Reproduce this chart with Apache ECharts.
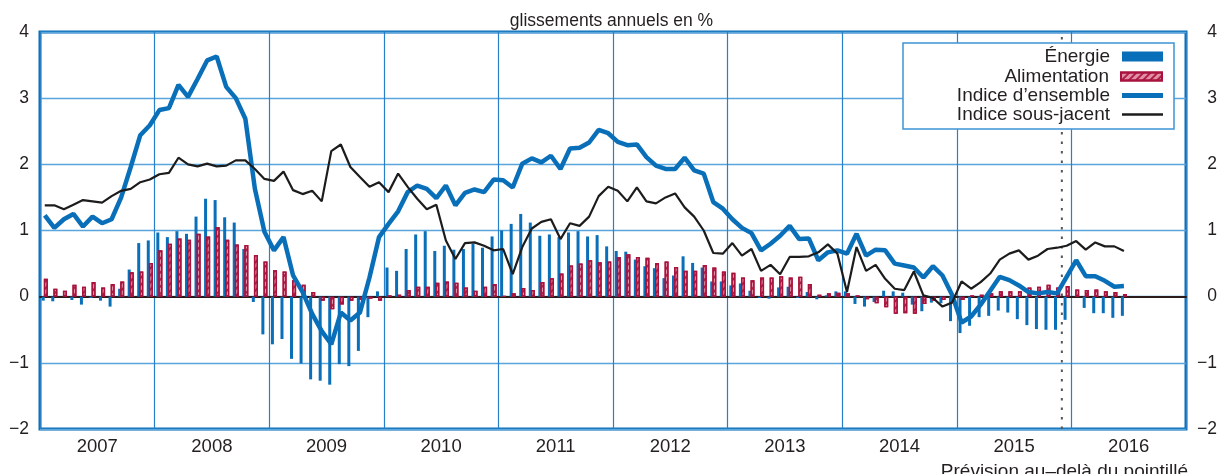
<!DOCTYPE html>
<html><head><meta charset="utf-8">
<script src="https://cdn.jsdelivr.net/npm/echarts@6/dist/echarts.min.js"></script>
<style>html,body{margin:0;padding:0;background:#fff}#c{width:1223px;height:474px}</style>
</head><body><div id="c"></div>
<script>
// ---- data ----
const years = ['2007','2008','2009','2010','2011','2012','2013','2014','2015','2016'];
const yMin = -2, yMax = 4, yStep = 1;
// monthly year-on-year changes (%), Jan 2007 -> Jun 2016
const energie = [
 -0.06,-0.07,0,-0.05,-0.12,-0.02,-0.06,-0.15,0.12,0.41,0.81,0.85,
 0.97,0.9,0.99,0.95,1.21,1.48,1.46,1.2,1.12,0.72,-0.08,-0.57,
 -0.72,-0.64,-0.94,-1.01,-1.25,-1.27,-1.33,-1.02,-1.05,-0.82,-0.31,0.08,
 0.44,0.39,0.72,0.94,0.99,0.69,0.77,0.71,0.72,0.8,0.74,0.91,
 1.0,1.1,1.25,1.12,0.92,0.94,0.9,0.97,0.99,0.91,0.93,0.76,
 0.69,0.68,0.56,0.46,0.43,0.28,0.32,0.61,0.51,0.44,0.23,0.23,
 0.17,0.2,0.09,-0.02,-0.03,0.14,0.15,-0.02,0.07,-0.04,0.02,0.08,
 0.08,-0.11,-0.15,-0.08,0.09,0.08,0.06,-0.12,-0.22,-0.09,-0.1,-0.37,
 -0.55,-0.44,-0.31,-0.29,-0.21,-0.24,-0.34,-0.43,-0.49,-0.5,-0.5,-0.35,
 0,-0.17,-0.25,-0.25,-0.32,-0.29
];
const alimentation = [
 0.27,0.12,0.09,0.18,0.15,0.22,0.14,0.19,0.23,0.37,0.38,0.51,
 0.70,0.8,0.88,0.86,0.95,0.91,1.05,0.86,0.79,0.78,0.63,0.53,
 0.40,0.38,0.25,0.18,0.07,-0.06,-0.19,-0.12,-0.06,-0.05,-0.03,-0.06,
 0.02,0.03,0.1,0.15,0.15,0.21,0.23,0.21,0.14,0.09,0.15,0.19,
 0.01,0.05,0.13,0.1,0.22,0.28,0.35,0.47,0.5,0.55,0.52,0.53,
 0.6,0.64,0.6,0.59,0.51,0.53,0.45,0.39,0.39,0.48,0.44,0.38,
 0.36,0.29,0.25,0.29,0.29,0.31,0.29,0.3,0.19,0.03,0.05,0.06,
 0.05,0.02,-0.04,-0.1,-0.16,-0.26,-0.25,-0.26,-0.11,-0.06,-0.05,-0.03,
 -0.05,0.02,0.03,0.05,0.08,0.08,0.08,0.14,0.15,0.18,0.14,0.16,
 0.11,0.1,0.11,0.08,0.07,0.04
];
const ensemble = [
 1.23,1.04,1.17,1.25,1.06,1.21,1.11,1.17,1.5,1.96,2.44,2.59,
 2.82,2.85,3.2,3.02,3.29,3.57,3.63,3.17,3.0,2.69,1.63,0.98,
 0.70,0.9,0.32,0.07,-0.26,-0.52,-0.72,-0.24,-0.36,-0.24,0.29,0.9,
 1.1,1.29,1.58,1.68,1.63,1.49,1.68,1.38,1.57,1.62,1.58,1.77,
 1.76,1.65,2.01,2.09,2.03,2.13,1.93,2.24,2.25,2.33,2.52,2.47,
 2.34,2.29,2.3,2.11,1.98,1.93,1.93,2.1,1.91,1.86,1.43,1.33,
 1.17,1.04,0.96,0.7,0.8,0.92,1.07,0.87,0.88,0.55,0.67,0.70,
 0.65,0.95,0.62,0.71,0.70,0.5,0.47,0.44,0.29,0.46,0.32,0.03,
 -0.39,-0.30,-0.12,0.09,0.30,0.25,0.17,0.07,0.05,0.07,0.05,0.30,
 0.55,0.31,0.31,0.24,0.15,0.16
];
const sousJacent = [
 1.38,1.38,1.32,1.39,1.46,1.44,1.42,1.52,1.6,1.63,1.73,1.77,
 1.85,1.87,2.1,2.0,1.97,2.01,1.97,1.98,2.06,2.06,1.93,1.78,
 1.75,1.89,1.61,1.55,1.6,1.44,2.2,2.3,1.96,1.81,1.66,1.73,
 1.58,1.86,1.66,1.48,1.32,1.39,0.85,0.57,0.81,0.82,0.77,0.70,
 0.72,0.34,0.75,1.03,1.13,1.17,0.87,1.11,1.07,1.21,1.52,1.66,
 1.6,1.44,1.65,1.44,1.41,1.5,1.56,1.35,1.21,1.0,0.66,0.65,
 0.81,0.62,0.72,0.39,0.48,0.34,0.6,0.6,0.61,0.67,0.79,0.65,
 0.07,0.75,0.39,0.48,0.27,0.12,0.1,0.38,0.02,-0.02,-0.15,-0.09,
 0.23,0.12,0.22,0.35,0.56,0.65,0.70,0.56,0.62,0.72,0.74,0.77,
 0.84,0.71,0.82,0.76,0.76,0.69
];
const forecastStart = 107; // month index where the forecast begins (boundary Nov/Dec 2015)
const seriesNames = ['Énergie','Alimentation','Indice d’ensemble','Indice sous-jacent'];

const months = [];
years.forEach(y => { for (let m = 1; m <= 12; m++) months.push(y + '-' + String(m).padStart(2, '0')); });

const BLUE = '#0a6fb9';
const RED = '#a8123c';
const BLACK = '#1c1c1c';
const FONT = '"Liberation Sans", Arial, Helvetica, sans-serif';
const TXT = '#231f20';
const minus = v => String(v).replace('-', '\u2212');

const chart = echarts.init(document.getElementById('c'), null, {renderer: 'canvas'});
const legendTops = [47, 67, 86, 105];
const legendIconH = [10, 8, 5, 2.5];
const legendIconColor = [null, null, BLUE, BLACK];
const option = {
  animation: false,
  textStyle: {fontFamily: FONT},
  title: [
    {text: 'glissements annuels en %', left: 'center', top: 7,
     textStyle: {fontSize: 17.5, fontWeight: 'normal', color: TXT, fontFamily: FONT}},
    {text: 'Prévision au–delà du pointillé', right: 30, top: 457,
     textStyle: {fontSize: 19, fontWeight: 'normal', color: TXT, fontFamily: FONT}}
  ],
  grid: {left: 40, right: 37, top: 32, bottom: 45, show: true, borderColor: BLUE, borderWidth: 3,
         backgroundColor: '#fff', containLabel: false, outerBoundsMode: 'none'},
  legend: seriesNames.map((n, k) => ({
    data: [k < 2 ? {name: n, icon: 'rect'}
                 : {name: n, icon: 'rect', itemStyle: {color: legendIconColor[k], borderWidth: 0}}],
    right: 60, top: legendTops[k], align: 'right', orient: 'horizontal', padding: 0,
    itemWidth: 41, itemHeight: legendIconH[k], selectedMode: false, z: 10,
    textStyle: {fontSize: 19, color: TXT, fontFamily: FONT, padding: [0, 7, 0, 0]}
  })),
  graphic: [{type: 'rect', z: 5, shape: {x: 903, y: 43, width: 271, height: 86},
             style: {fill: '#fff', stroke: '#3d94d6', lineWidth: 1.5}}],
  xAxis: [
    {type: 'category', data: months, boundaryGap: true,
     axisLine: {onZero: true, lineStyle: {color: '#2b1b1b', width: 2}},
     axisTick: {show: false}, axisLabel: {show: false}, splitLine: {show: false}},
    {type: 'category', data: years, boundaryGap: true, position: 'bottom',
     axisLine: {show: false, onZero: false}, axisTick: {show: false},
     axisLabel: {fontSize: 18.5, color: TXT, margin: 8, fontFamily: FONT},
     splitLine: {show: true, lineStyle: {color: '#2a80c6', width: 1.2}}},
    {type: 'value', min: 0, max: months.length, show: false}
  ],
  yAxis: [
    {type: 'value', min: yMin, max: yMax, interval: yStep, position: 'left',
     axisLine: {show: false}, axisTick: {show: false},
     axisLabel: {fontSize: 17.5, color: TXT, formatter: minus, margin: 11, fontFamily: FONT},
     splitLine: {lineStyle: {color: '#5aa5dc', width: 1.3}}},
    {type: 'value', min: yMin, max: yMax, interval: yStep, position: 'right',
     axisLine: {show: false}, axisTick: {show: false},
     axisLabel: {fontSize: 17.5, color: TXT, formatter: minus, margin: 31, align: 'right', fontFamily: FONT},
     splitLine: {show: false}}
  ],
  series: [
    {type: 'line', xAxisIndex: 2, yAxisIndex: 0, data: [[forecastStart, yMin], [forecastStart, yMax]],
     symbol: 'none', silent: true, z: 2,
     lineStyle: {color: '#555', width: 2, type: [2.5, 7]}},
    {name: seriesNames[0], type: 'bar', data: energie, barWidth: 3, barGap: '-30%',
     itemStyle: {color: BLUE}},
    {name: seriesNames[1], type: 'bar', data: alimentation, barWidth: 4,
     itemStyle: {color: '#e390a6', borderColor: RED, borderWidth: 1.3,
       decal: {symbol: 'rect', symbolSize: 1, color: 'rgba(168,18,60,0.9)', dashArrayX: [1, 0], dashArrayY: [1.5, 3], rotation: -Math.PI / 4}}},
    {name: seriesNames[2], type: 'line', data: ensemble, symbol: 'none', showSymbol: false, z: 3,
     lineStyle: {color: BLUE, width: 4.5}, itemStyle: {color: BLUE}},
    {name: seriesNames[3], type: 'line', data: sousJacent, symbol: 'none', showSymbol: false, z: 4,
     lineStyle: {color: BLACK, width: 2.2}, itemStyle: {color: BLACK}}
  ]
};
chart.setOption(option);
</script>
</body></html>
